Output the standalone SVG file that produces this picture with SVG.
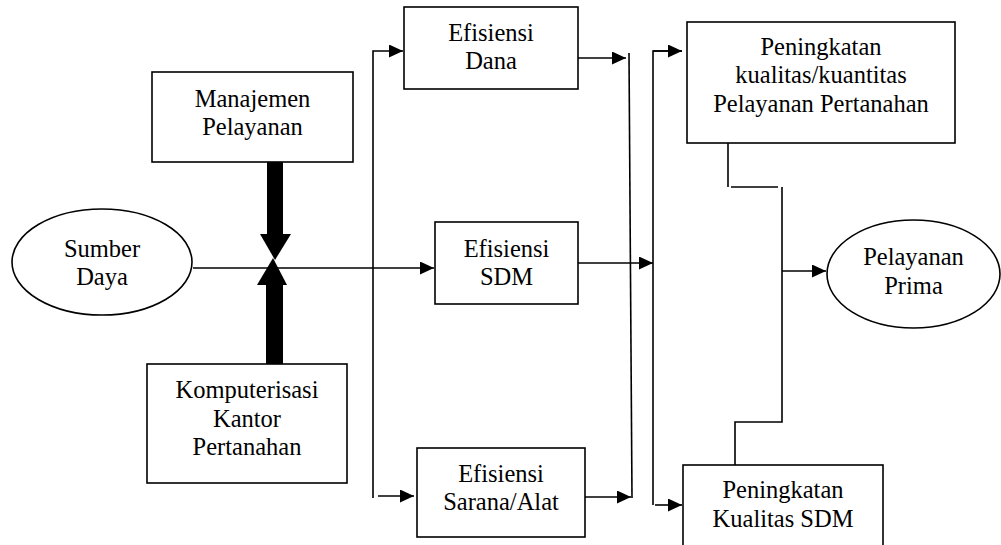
<svg xmlns="http://www.w3.org/2000/svg" width="1001" height="545" viewBox="0 0 1001 545">
<style>
.box{fill:#fff;stroke:#000;stroke-width:1.6}
.ln{fill:none;stroke:#000;stroke-width:1.6}
.t{font-family:'Liberation Serif','Times New Roman',serif;font-size:24.5px;fill:#000;text-anchor:middle}
</style>
<defs>
<marker id="ah" markerUnits="userSpaceOnUse" markerWidth="15" markerHeight="13" refX="14" refY="6.5" orient="auto">
<path d="M0,0 L14,6.5 L0,13 z" fill="#000"/>
</marker>
</defs>
<rect width="1001" height="545" fill="#fff"/>
<g id="connectors">
<line class="ln" x1="193" y1="268" x2="434" y2="268" marker-end="url(#ah)"/>
<path class="ln" d="M373,498 V51 H403" marker-end="url(#ah)"/>
<line class="ln" x1="378" y1="496" x2="414" y2="496" marker-end="url(#ah)"/>
<line class="ln" x1="578" y1="58" x2="626" y2="58" marker-end="url(#ah)"/>
<line class="ln" x1="578" y1="263" x2="653" y2="263" marker-end="url(#ah)"/>
<line class="ln" x1="585" y1="497" x2="631" y2="497" marker-end="url(#ah)"/>
<line class="ln" x1="629" y1="53" x2="632" y2="498"/>
<path class="ln" d="M682,51 H653 V505"/>
<line class="ln" x1="653" y1="51" x2="682" y2="51" marker-end="url(#ah)"/>
<line class="ln" x1="655" y1="505" x2="682" y2="505" marker-end="url(#ah)"/>
<path class="ln" d="M728,143 V187"/>
<path class="ln" d="M731,187 H778"/>
<path class="ln" d="M782,187 V422 H735 V465"/>
<line class="ln" x1="782" y1="271" x2="826" y2="271" marker-end="url(#ah)"/>
<rect x="267" y="162" width="16" height="73" fill="#000"/>
<polygon points="260,234 291,234 275,260" fill="#000"/>
<rect x="266" y="283" width="17" height="82" fill="#000"/>
<polygon points="257,285 287,285 273,258" fill="#000"/>
</g>
<g id="manajemen">
<rect class="box" x="152" y="72" width="201" height="90"/>
<text class="t" x="252.5" y="107">Manajemen</text>
<text class="t" x="252.5" y="135">Pelayanan</text>
</g>
<g id="sumber-daya">
<ellipse class="box" cx="102" cy="262" rx="90" ry="53"/>
<text class="t" x="102" y="257">Sumber</text>
<text class="t" x="102" y="285">Daya</text>
</g>
<g id="komputerisasi">
<rect class="box" x="147" y="364" width="200" height="119"/>
<text class="t" x="247" y="398">Komputerisasi</text>
<text class="t" x="247" y="427">Kantor</text>
<text class="t" x="247" y="455">Pertanahan</text>
</g>
<g id="efisiensi-dana">
<rect class="box" x="404" y="7" width="174" height="82"/>
<text class="t" x="491" y="41">Efisiensi</text>
<text class="t" x="491" y="69">Dana</text>
</g>
<g id="efisiensi-sdm">
<rect class="box" x="435" y="222" width="143" height="82"/>
<text class="t" x="506.5" y="257">Efisiensi</text>
<text class="t" x="506.5" y="285">SDM</text>
</g>
<g id="efisiensi-sarana">
<rect class="box" x="417" y="448" width="168" height="89"/>
<text class="t" x="501" y="482">Efisiensi</text>
<text class="t" x="501" y="510">Sarana/Alat</text>
</g>
<g id="peningkatan-pelayanan">
<rect class="box" x="687" y="22" width="268" height="121"/>
<text class="t" x="821" y="55">Peningkatan</text>
<text class="t" x="821" y="83">kualitas/kuantitas</text>
<text class="t" x="821" y="112">Pelayanan Pertanahan</text>
</g>
<g id="pelayanan-prima">
<ellipse class="box" cx="913.5" cy="274" rx="86.5" ry="54"/>
<text class="t" x="913.5" y="265">Pelayanan</text>
<text class="t" x="913.5" y="294">Prima</text>
</g>
<g id="peningkatan-sdm">
<rect class="box" x="683" y="465" width="200" height="100"/>
<text class="t" x="783" y="498">Peningkatan</text>
<text class="t" x="783" y="527">Kualitas SDM</text>
</g>
</svg>
